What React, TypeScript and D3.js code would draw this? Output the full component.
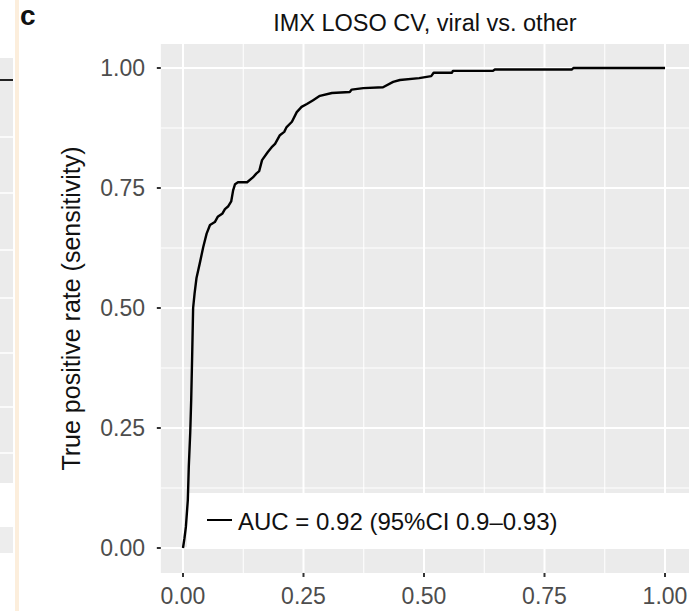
import React from "react";
import * as d3 from "d3";

const fpr = [0, 0.003, 0.006, 0.01, 0.012, 0.015, 0.017, 0.019, 0.021, 0.024, 0.028, 0.035, 0.042, 0.049, 0.056, 0.066, 0.072, 0.082, 0.087, 0.094, 0.1, 0.104, 0.108, 0.114, 0.133, 0.145, 0.152, 0.158, 0.164, 0.176, 0.184, 0.191, 0.201, 0.21, 0.215, 0.226, 0.236, 0.246, 0.257, 0.27, 0.284, 0.309, 0.346, 0.35, 0.374, 0.415, 0.436, 0.45, 0.49, 0.515, 0.52, 0.558, 0.56, 0.643, 0.647, 0.807, 0.81, 1.0];
const tpr = [0, 0.02, 0.044, 0.1, 0.169, 0.24, 0.308, 0.4, 0.5, 0.53, 0.5625, 0.594, 0.627, 0.655, 0.673, 0.679, 0.69, 0.697, 0.706, 0.712, 0.722, 0.745, 0.758, 0.762, 0.762, 0.772, 0.78, 0.785, 0.808, 0.825, 0.835, 0.842, 0.86, 0.867, 0.877, 0.888, 0.908, 0.919, 0.925, 0.933, 0.942, 0.948, 0.95, 0.955, 0.958, 0.96, 0.971, 0.975, 0.979, 0.983, 0.99, 0.99, 0.994, 0.994, 0.997, 0.997, 1.0, 1.0];

const majorTicks = [0, 0.25, 0.5, 0.75, 1];
const minorTicks = [0.125, 0.375, 0.625, 0.875];
const tickLabels = ["0.00", "0.25", "0.50", "0.75", "1.00"];
const titleText = "IMX LOSO CV, viral vs. other";
const yLabel = "True positive rate (sensitivity)";
const legendText = "AUC = 0.92 (95%CI 0.9\u20130.93)";
const panelLetter = "c";
// faint pieces of the neighbouring panel on the left edge
const neighbourGridY = [137, 193, 250, 298, 353, 407, 453];

const W = 689;
const H = 611;
const FONT = "'Liberation Sans', Arial, Helvetica, sans-serif";

export default function App() {
  const x = d3.scaleLinear().domain([0, 1]).range([183, 665]);
  const y = d3.scaleLinear().domain([0, 1]).range([548, 68]);
  const pL = x(-0.046);
  const pR = W;
  const pT = y(1.05);
  const pB = y(-0.052);

  const pts: [number, number][] = fpr.map((f, i) => [f, tpr[i]]);
  const line = d3
    .line<[number, number]>()
    .x((d) => x(d[0]))
    .y((d) => y(d[1]));

  const legTop = 493;
  const legBot = 548;
  const legMid = (legTop + legBot) / 2;

  return (
    <svg
      width={W}
      height={H}
      style={{ position: "absolute", left: 0, top: 0, background: "#fff" }}
      fontFamily={FONT}
    >
      <rect x={0} y={0} width={W} height={H} fill="#fff" />
      {/* neighbour panel remnants */}
      <rect x={0} y={58} width={13} height={425} fill="#EBEBEB" />
      {neighbourGridY.map((gy) => (
        <line key={gy} x1={0} x2={13} y1={gy} y2={gy} stroke="#fff" strokeWidth={1.5} />
      ))}
      <line x1={0} x2={13} y1={80} y2={80} stroke="#222" strokeWidth={2} />
      <rect x={0} y={527} width={13} height={26} fill="#EDEDED" />
      <rect x={15} y={0} width={4} height={H} fill="#FCEEDC" />
      <text x={20} y={25} fontSize={28} fontWeight="bold" fill="#111">
        {panelLetter}
      </text>

      {/* panel */}
      <rect x={pL} y={pT} width={pR - pL} height={pB - pT} fill="#EBEBEB" />
      {minorTicks.map((t) => (
        <g key={"mn" + t}>
          <line x1={x(t)} x2={x(t)} y1={pT} y2={pB} stroke="#fff" strokeWidth={1} />
          <line x1={pL} x2={pR} y1={y(t)} y2={y(t)} stroke="#fff" strokeWidth={1} />
        </g>
      ))}
      {majorTicks.map((t) => (
        <g key={"mj" + t}>
          <line x1={x(t)} x2={x(t)} y1={pT} y2={pB} stroke="#fff" strokeWidth={2} />
          <line x1={pL} x2={pR} y1={y(t)} y2={y(t)} stroke="#fff" strokeWidth={2} />
        </g>
      ))}

      {/* legend box */}
      <rect x={187} y={legTop} width={pR - 187} height={legBot - legTop} fill="#fff" />

      {/* ROC curve */}
      <path d={line(pts) || ""} fill="none" stroke="#000" strokeWidth={2.4} strokeLinejoin="round" />

      {/* legend content */}
      <line x1={207} x2={232} y1={legMid - 0.5} y2={legMid - 0.5} stroke="#000" strokeWidth={2} />
      <text x={238} y={530} fontSize={24} fill="#111">
        {legendText}
      </text>

      {/* axes ticks */}
      {majorTicks.map((t, i) => (
        <g key={"ax" + t}>
          <line x1={x(t)} x2={x(t)} y1={pB} y2={pB + 4} stroke="#333" strokeWidth={2} />
          <text x={x(t)} y={604} fontSize={23} fill="#4D4D4D" textAnchor="middle">
            {tickLabels[i]}
          </text>
          <line x1={pL - 4} x2={pL} y1={y(t)} y2={y(t)} stroke="#333" strokeWidth={2} />
          <text x={145} y={y(t) + 8.3} fontSize={23} fill="#4D4D4D" textAnchor="end">
            {tickLabels[i]}
          </text>
        </g>
      ))}

      {/* title */}
      <text x={(pL + pR) / 2} y={31} fontSize={23.5} fill="#111" textAnchor="middle">
        {titleText}
      </text>

      {/* y label */}
      <text
        transform={`translate(80, ${(pT + pB) / 2}) rotate(-90)`}
        fontSize={25}
        fill="#111"
        textAnchor="middle"
      >
        {yLabel}
      </text>
    </svg>
  );
}
